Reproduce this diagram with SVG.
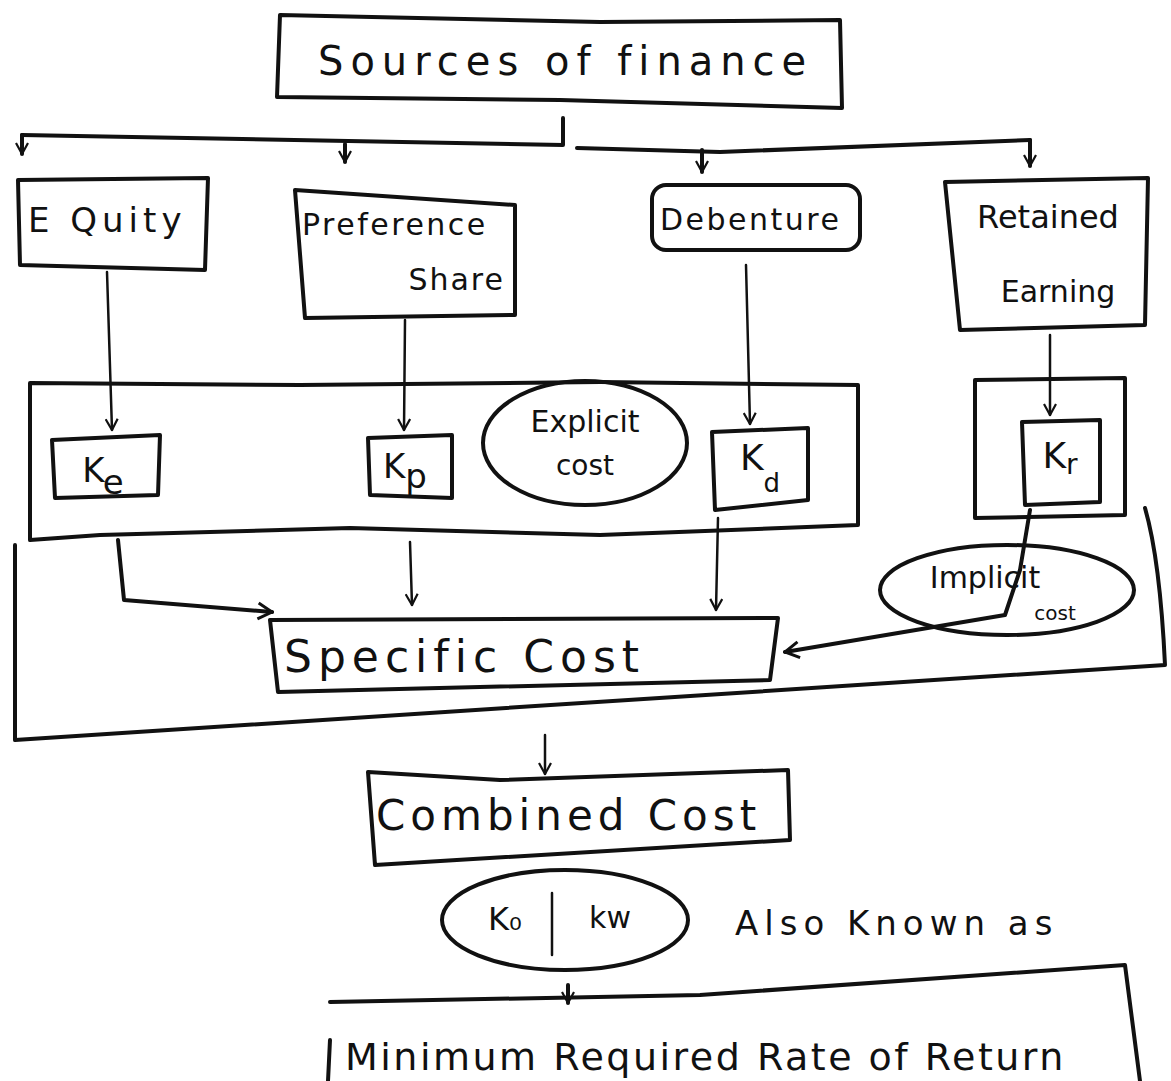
<svg xmlns="http://www.w3.org/2000/svg" width="1171" height="1081" viewBox="0 0 1171 1081">
<style>
.s{fill:none;stroke:#111;stroke-width:4;stroke-linejoin:round;stroke-linecap:round}
.c{fill:none;stroke:#111;stroke-width:2.5;stroke-linecap:round}
.t{font-family:"DejaVu Sans","Liberation Sans",sans-serif;fill:#111;font-weight:normal}
</style>
<defs>
<marker id="a" viewBox="0 0 14 14" refX="13" refY="7" markerWidth="14" markerHeight="14" markerUnits="userSpaceOnUse" orient="auto">
<path d="M2,1 L13,7 L2,13" fill="none" stroke="#111" stroke-width="2.2"/>
</marker>
<marker id="b" viewBox="0 0 20 20" refX="18" refY="10" markerWidth="20" markerHeight="20" markerUnits="userSpaceOnUse" orient="auto">
<path d="M4,2 L18,10 L4,18" fill="none" stroke="#111" stroke-width="3"/>
</marker>
</defs>
<rect width="1171" height="1081" fill="#fff"/>

<g id="connectors">
<path class="s" d="M563,118 L563,145 L22,135"/>
<path class="s" d="M22,135 L22,154" marker-end="url(#a)"/>
<path class="s" d="M345,144 L345,162" marker-end="url(#a)"/>
<path class="s" d="M577,148 L720,152 L1030,140"/>
<path class="s" d="M702,150 L702,172" marker-end="url(#a)"/>
<path class="s" d="M1030,140 L1030,166" marker-end="url(#a)"/>
<path class="c" d="M107,272 L112,430" marker-end="url(#a)"/>
<path class="c" d="M405,320 L404,430" marker-end="url(#a)"/>
<path class="c" d="M746,265 L750,424" marker-end="url(#a)"/>
<path class="c" d="M1050,335 L1050,415" marker-end="url(#a)"/>
<path class="s" d="M118,540 L124,600 L272,612" marker-end="url(#b)"/>
<path class="c" d="M410,542 L412,605" marker-end="url(#a)"/>
<path class="c" d="M718,518 L716,610" marker-end="url(#a)"/>
<path class="s" d="M1030,510 L1020,570 L1005,615 L785,652" marker-end="url(#b)"/>
<path class="c" d="M545,735 L545,774" marker-end="url(#a)"/>
<path class="s" d="M568,985 L568,1003" marker-end="url(#a)"/>
</g>

<g id="source">
<path class="s" d="M280,15 L600,22 L840,20 L842,108 L560,100 L277,97 Z"/>
<text class="t" x="318" y="75" font-size="40" letter-spacing="7">Sources of finance</text>
</g>

<g id="equity">
<path class="s" d="M18,180 L208,178 L205,270 L20,265 Z"/>
<text class="t" x="28" y="232" font-size="34" letter-spacing="5">E Quity</text>
</g>

<g id="preference">
<path class="s" d="M295,190 L515,205 L515,315 L305,318 Z"/>
<text class="t" x="302" y="235" font-size="30" letter-spacing="2.5">Preference</text>
<text class="t" x="505" y="290" font-size="30" text-anchor="end" letter-spacing="2">Share</text>
</g>

<g id="debenture">
<rect class="s" x="652" y="185" width="208" height="65" rx="14"/>
<text class="t" x="660" y="230" font-size="30" letter-spacing="2.5">Debenture</text>
</g>

<g id="retained">
<path class="s" d="M945,182 L1148,178 L1145,325 L960,330 Z"/>
<text class="t" x="1048" y="228" font-size="32" text-anchor="middle">Retained</text>
<text class="t" x="1058" y="302" font-size="30" text-anchor="middle">Earning</text>
</g>

<g id="explicit-group">
<path class="s" d="M30,383 L300,385 L600,382 L858,385 L858,525 L600,535 L350,528 L100,535 L30,540 Z"/>
</g>

<g id="ke">
<path class="s" d="M52,440 L160,435 L158,495 L55,498 Z"/>
<text class="t" x="103" y="482" font-size="34" text-anchor="middle">K<tspan dy="12">e</tspan></text>
</g>

<g id="kp">
<path class="s" d="M368,438 L452,435 L452,498 L370,495 Z"/>
<text class="t" x="405" y="478" font-size="34" text-anchor="middle">K<tspan dy="10">p</tspan></text>
</g>

<g id="explicit-cost">
<ellipse class="s" cx="585" cy="443" rx="102" ry="62"/>
<text class="t" x="585" y="432" font-size="30" text-anchor="middle">Explicit</text>
<text class="t" x="585" y="475" font-size="28" text-anchor="middle">cost</text>
</g>

<g id="kd">
<path class="s" d="M712,432 L808,428 L808,500 L715,510 Z"/>
<text class="t" x="760" y="470" font-size="36" text-anchor="middle">K<tspan font-size="26" dy="22">d</tspan></text>
</g>

<g id="kr-outer">
<path class="s" d="M975,380 L1125,378 L1125,515 L975,518 Z"/>
</g>

<g id="kr">
<path class="s" d="M1022,422 L1100,420 L1100,502 L1025,505 Z"/>
<text class="t" x="1060" y="468" font-size="36" text-anchor="middle">K<tspan font-size="28" dy="6">r</tspan></text>
</g>

<g id="implicit-cost">
<ellipse class="s" cx="1007" cy="590" rx="127" ry="45"/>
<text class="t" x="985" y="588" font-size="30" text-anchor="middle">Implicit</text>
<text class="t" x="1055" y="620" font-size="20" text-anchor="middle">cost</text>
</g>

<g id="specific-group">
<path class="s" d="M1145,508 Q1160,560 1165,665 L15,740 L15,545"/>
</g>

<g id="specific-cost">
<path class="s" d="M270,620 L778,618 L770,680 L278,692 Z"/>
<text class="t" x="284" y="672" font-size="44" letter-spacing="6">Specific  Cost</text>
</g>

<g id="combined-cost">
<path class="s" d="M368,772 L500,780 L788,770 L790,840 L375,865 Z"/>
<text class="t" x="376" y="830" font-size="42" letter-spacing="5">Combined Cost</text>
</g>

<g id="ko-kw">
<ellipse class="s" cx="565" cy="920" rx="123" ry="50"/>
<path class="c" d="M552,893 L552,955"/>
<text class="t" x="505" y="930" font-size="32" text-anchor="middle">K₀</text>
<text class="t" x="610" y="928" font-size="30" text-anchor="middle">kw</text>
</g>

<g id="also-known">
<text class="t" x="735" y="935" font-size="34" letter-spacing="6">Also Known as</text>
</g>

<g id="min-return">
<path class="s" d="M330,1002 L700,995 L1125,965 L1140,1081"/>
<path class="s" d="M330,1040 L328,1081"/>
<text class="t" x="345" y="1070" font-size="38" letter-spacing="2.5">Minimum Required Rate of Return</text>
</g>
</svg>
